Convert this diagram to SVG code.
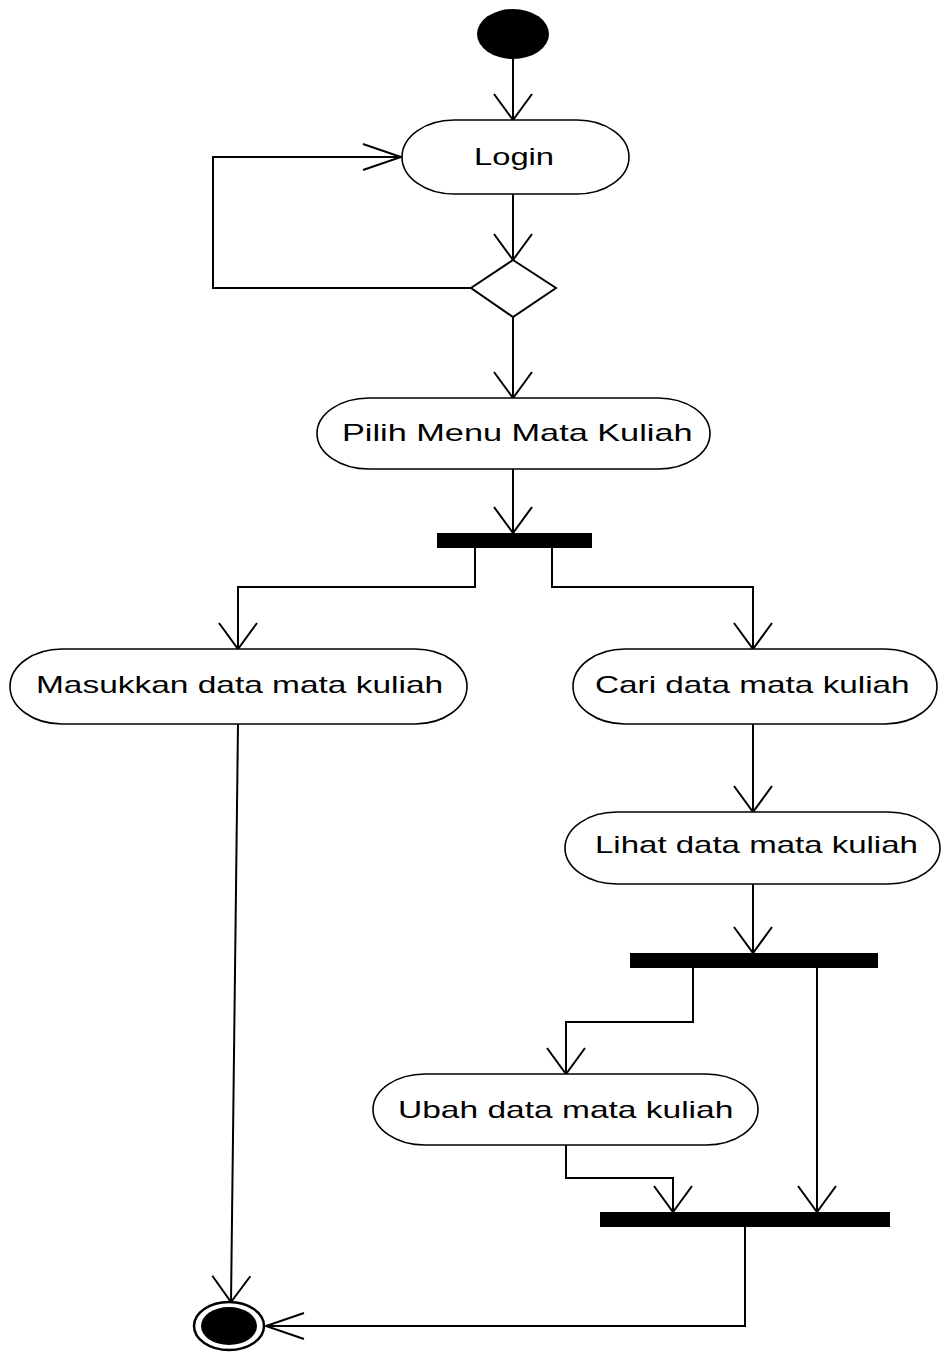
<svg xmlns="http://www.w3.org/2000/svg" width="945" height="1360" viewBox="0 0 945 1360">
  <style>
    .act { fill: #ffffff; stroke: #000000; stroke-width: 1.6; }
    .bar { fill: #000000; }
    .lbl { font-family: "Liberation Sans", Arial, sans-serif; font-size: 24px; fill: #000000; }
    .flow { fill: none; stroke: #000000; stroke-width: 2; }
    .v { marker-end: url(#arrV); }
    .h { marker-end: url(#arrH); }
  </style>
  <defs>
    <!-- open arrowheads; horizontal ones are longer and flatter -->
    <marker id="arrV" markerUnits="userSpaceOnUse" orient="auto" markerWidth="60" markerHeight="60" viewBox="-30 -30 60 60" refX="0" refY="0" overflow="visible">
      <path d="M -26 -19 L 0 0 L -26 19" fill="none" stroke="#000" stroke-width="2"/>
    </marker>
    <marker id="arrH" markerUnits="userSpaceOnUse" orient="auto" markerWidth="80" markerHeight="40" viewBox="-40 -20 80 40" refX="0" refY="0" overflow="visible">
      <path d="M -38 -13 L 0 0 L -38 13" fill="none" stroke="#000" stroke-width="2"/>
    </marker>
  </defs>

  <rect width="945" height="1360" fill="#ffffff"/>

  <!-- connectors -->
  <g id="connectors">
    <path class="flow v" d="M 513 59 L 513 120"/>
    <path class="flow v" d="M 513 194 L 513 260"/>
    <path class="flow h" d="M 471 288 L 213 288 L 213 157 L 401 157"/>
    <path class="flow v" d="M 513 317 L 513 398"/>
    <path class="flow v" d="M 513 469 L 513 533"/>
    <path class="flow v" d="M 475 548 L 475 587 L 238 587 L 238 649"/>
    <path class="flow v" d="M 552 548 L 552 587 L 753 587 L 753 649"/>
    <path class="flow v" d="M 753 724 L 753 812"/>
    <path class="flow v" d="M 753 884 L 753 953"/>
    <path class="flow v" d="M 693 968 L 693 1022 L 566 1022 L 566 1074"/>
    <path class="flow v" d="M 817 968 L 817 1212"/>
    <path class="flow v" d="M 566 1145 L 566 1178 L 673 1178 L 673 1212"/>
    <path class="flow h" d="M 745 1227 L 745 1326 L 266 1326"/>
    <path class="flow v" d="M 238 724 L 231 1302"/>
  </g>

  <!-- start -->
  <g id="start">
    <ellipse cx="513" cy="34" rx="36" ry="25" fill="#000"/>
  </g>

  <g id="login">
    <rect class="act" x="402" y="120" width="227" height="74" rx="52" ry="37"/>
    <g transform="translate(474 165) scale(1.38 1)">
      <text class="lbl" x="0" y="0" textLength="58" lengthAdjust="spacingAndGlyphs">Login</text>
    </g>
  </g>

  <g id="decision">
    <polygon points="513,260 556,288 513,317 471,288" fill="#fff" stroke="#000" stroke-width="2"/>
  </g>

  <g id="pilih-menu">
    <rect class="act" x="317" y="398" width="393" height="71" rx="52" ry="35.5"/>
    <g transform="translate(342 441) scale(1.38 1)">
      <text class="lbl" x="0" y="0" textLength="254" lengthAdjust="spacingAndGlyphs">Pilih Menu Mata Kuliah</text>
    </g>
  </g>

  <g id="fork-1">
    <rect class="bar" x="437" y="533" width="155" height="15"/>
  </g>

  <g id="masukkan">
    <rect class="act" x="10" y="649" width="457" height="75" rx="52" ry="37.5"/>
    <g transform="translate(36 693) scale(1.38 1)">
      <text class="lbl" x="0" y="0" textLength="295" lengthAdjust="spacingAndGlyphs">Masukkan data mata kuliah</text>
    </g>
  </g>

  <g id="cari">
    <rect class="act" x="573" y="649" width="364" height="75" rx="52" ry="37.5"/>
    <g transform="translate(595 693) scale(1.38 1)">
      <text class="lbl" x="0" y="0" textLength="228" lengthAdjust="spacingAndGlyphs">Cari data mata kuliah</text>
    </g>
  </g>

  <g id="lihat">
    <rect class="act" x="565" y="812" width="375" height="72" rx="52" ry="36"/>
    <g transform="translate(595 853) scale(1.38 1)">
      <text class="lbl" x="0" y="0" textLength="234" lengthAdjust="spacingAndGlyphs">Lihat data mata kuliah</text>
    </g>
  </g>

  <g id="fork-2">
    <rect class="bar" x="630" y="953" width="248" height="15"/>
  </g>

  <g id="ubah">
    <rect class="act" x="373" y="1074" width="385" height="71" rx="52" ry="35.5"/>
    <g transform="translate(398 1118) scale(1.38 1)">
      <text class="lbl" x="0" y="0" textLength="243" lengthAdjust="spacingAndGlyphs">Ubah data mata kuliah</text>
    </g>
  </g>

  <g id="join">
    <rect class="bar" x="600" y="1212" width="290" height="15"/>
  </g>

  <g id="end">
    <ellipse cx="229" cy="1326" rx="35" ry="24" fill="#fff" stroke="#000" stroke-width="2.5"/>
    <ellipse cx="229" cy="1326" rx="28" ry="19" fill="#000"/>
  </g>
</svg>
